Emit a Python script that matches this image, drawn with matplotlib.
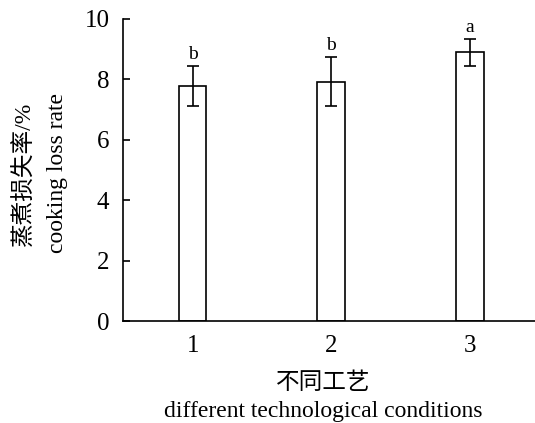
import matplotlib
matplotlib.use("Agg")
import matplotlib.pyplot as plt

# cooking loss for each process, mean and error
groups = [1, 2, 3]
loss_mean = [7.78, 7.93, 8.90]
loss_err = [0.65, 0.80, 0.45]
sig_letters = ["b", "b", "a"]
yticks = [0, 2, 4, 6, 8, 10]

plt.rcParams['font.family'] = ['Liberation Serif', 'Noto Sans CJK SC']
plt.rcParams['font.size'] = 17

fig = plt.figure(figsize=(5.35, 4.23), dpi=100)
ax = fig.add_axes([0.2305, 0.2411, 0.7695, 0.7140])

ax.bar(groups, loss_mean, width=0.2, color='white', edgecolor='black',
       linewidth=1.2, zorder=2)
ax.errorbar(groups, loss_mean, yerr=loss_err, fmt='none', ecolor='black',
            elinewidth=1.2, capsize=4.5, capthick=1.2, zorder=3)

for x, m, e, s in zip(groups, loss_mean, loss_err, sig_letters):
    ax.text(x, m + e + 0.1, s, ha='center', va='bottom', fontsize=14)

ax.set_xlim(0.5, 3.47)
ax.set_ylim(0, 10)
ax.set_xticks(groups)
ax.set_yticks(yticks)
ax.tick_params(direction='in', length=5, width=1.2, pad=10, labelsize=18)
ax.spines['top'].set_visible(False)
ax.spines['right'].set_visible(False)
for side in ['left', 'bottom']:
    ax.spines[side].set_linewidth(1.2)

# axis titles in Chinese and English, one line each
fig.text(0.047, 0.59, "蒸煮损失率/%", rotation=90, ha='center', va='center',
         fontsize=17, fontweight='light')
fig.text(0.107, 0.59, "cooking loss rate", rotation=90, ha='center',
         va='center', fontsize=17)
fig.text(0.605, 0.095, "不同工艺", ha='center', va='center', fontsize=17,
         fontweight='light')
fig.text(0.605, 0.028, "different technological conditions", ha='center',
         va='center', fontsize=17)

fig.savefig("out.png", dpi=100)
